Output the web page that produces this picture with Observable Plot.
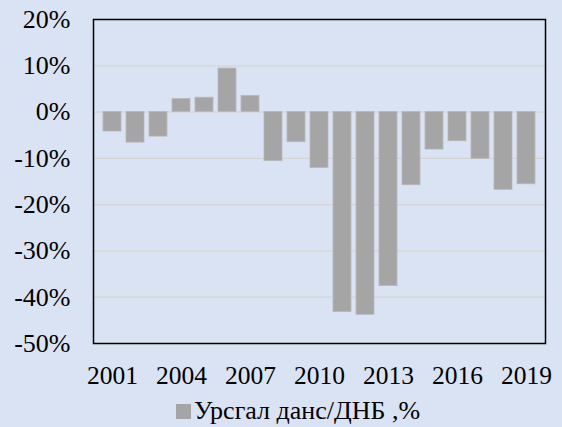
<!DOCTYPE html>
<html>
<head>
<meta charset="utf-8">
<script src="https://cdn.jsdelivr.net/npm/d3@7"></script>
<script src="https://cdn.jsdelivr.net/npm/@observablehq/plot@0.6"></script>
</head>
<body style="margin:0;padding:0;background:#dae3f3;font-family:'Liberation Serif';">
<div id="chart" style="width:562px;height:427px;position:relative;overflow:hidden;font-family:'Liberation Serif';"></div>
<script>
const years = ["2001","2002","2003","2004","2005","2006","2007","2008","2009","2010",
               "2011","2012","2013","2014","2015","2016","2017","2018","2019"];
const values = [-4.2, -6.6, -5.3, 2.8, 3.1, 9.4, 3.5, -10.6, -6.5, -12.1,
                -43.2, -43.8, -37.6, -15.8, -8.1, -6.3, -10.1, -16.8, -15.6];
const xTickLabels = ["2001","2004","2007","2010","2013","2016","2019"];
const yTicks = [20, 10, 0, -10, -20, -30, -40, -50];
const seriesName = "Урсгал данс/ДНБ ,%";

const data = years.map((y, i) => ({year: y, value: values[i]}));

const plot = Plot.plot({
  width: 562,
  height: 395,
  marginLeft: 93,
  marginRight: 17,
  marginTop: 19,
  marginBottom: 52,
  style: {fontFamily: "'Liberation Serif'", fontSize: "26px", background: "transparent", color: "#000"},
  x: {type: "band", domain: years, padding: 0.22, label: null},
  y: {domain: [-50, 20], label: null},
  marks: [
    Plot.gridY(yTicks, {stroke: "#d4d4d4", strokeOpacity: 1, strokeWidth: 1.2}),
    Plot.barY(data, {x: "year", y: "value", fill: "#a5a5a5", stroke: "#b8b8b8", strokeWidth: 0.8}),
    Plot.axisY({ticks: yTicks, tickSize: 0, tickPadding: 23, tickFormat: d => d + "%", label: null, fontSize: 26}),
    Plot.axisX({ticks: xTickLabels, tickSize: 0, tickPadding: 22, label: null, fontSize: 25.5}),
    Plot.frame({stroke: "#000", strokeWidth: 1.5})
  ]
});
plot.style.fontFamily = "'Liberation Serif'";
document.getElementById("chart").appendChild(plot);

const legend = document.createElement("div");
legend.setAttribute("style", "position:absolute;left:176px;top:398px;white-space:nowrap;font-family:'Liberation Serif';font-size:26px;color:#000;line-height:25px;");
const sw = document.createElement("span");
sw.setAttribute("style", "display:inline-block;width:15px;height:15px;background:#a5a5a5;margin-right:3px;vertical-align:baseline;");
legend.appendChild(sw);
legend.appendChild(document.createTextNode(seriesName));
document.getElementById("chart").appendChild(legend);
</script>
</body>
</html>
